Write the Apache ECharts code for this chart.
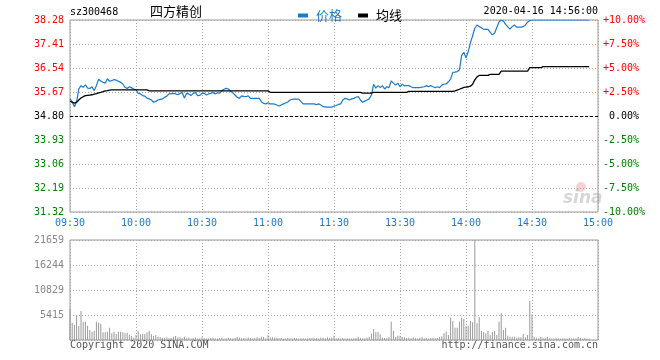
<!DOCTYPE html>
<html>
<head>
<meta charset="utf-8">
<script src="https://cdn.jsdelivr.net/npm/echarts@6/dist/echarts.min.js"></script>
<style>html,body{margin:0;padding:0;background:#fff}#c{width:660px;height:360px}</style>
</head>
<body>
<div id="c"></div>
<script>
// ---- data ----
var stockCode = 'sz300468';
var stockName = '四方精创';
var timestamp = '2020-04-16 14:56:00';
var prevClose = 34.80;
var priceTicks = [31.32, 38.28, 0.87];
var pctTicks = [-10, 10, 2.5];
var volTickLabels = ['', '5415', '10829', '16244', '21659'];
var volMax = 21659;

var price = [
35.42,35.31,35.14,35.31,35.78,35.90,35.84,35.93,35.81,35.80,
35.86,35.72,35.90,36.13,36.07,36.02,35.99,36.15,36.06,36.08,
36.12,36.10,36.06,36.02,35.96,35.84,35.80,35.86,35.82,35.78,
35.75,35.62,35.60,35.54,35.52,35.45,35.42,35.38,35.30,35.33,
35.38,35.40,35.42,35.48,35.52,35.60,35.61,35.62,35.60,35.57,
35.62,35.65,35.45,35.62,35.60,35.54,35.62,35.65,35.54,35.55,
35.62,35.63,35.56,35.60,35.62,35.65,35.60,35.64,35.63,35.72,
35.77,35.80,35.78,35.70,35.64,35.56,35.48,35.44,35.53,35.51,
35.50,35.53,35.44,35.44,35.44,35.44,35.44,35.32,35.26,35.24,
35.28,35.24,35.24,35.23,35.20,35.16,35.20,35.24,35.27,35.31,
35.38,35.40,35.41,35.41,35.41,35.32,35.24,35.24,35.24,35.24,
35.24,35.24,35.21,35.24,35.20,35.14,35.13,35.12,35.12,35.12,
35.16,35.18,35.22,35.24,35.38,35.44,35.42,35.38,35.42,35.44,
35.48,35.50,35.38,35.30,35.34,35.38,35.42,35.56,35.95,35.81,
35.90,35.83,35.90,35.78,35.86,35.83,36.07,35.99,35.92,35.99,
35.86,35.95,35.90,35.90,35.90,35.86,35.83,35.83,35.83,35.83,
35.85,35.86,35.90,35.86,35.90,35.86,35.83,35.86,35.83,35.92,
35.96,35.96,36.04,36.14,36.38,36.39,36.41,36.47,36.99,37.11,
36.91,37.13,37.44,37.71,37.98,38.10,38.04,38.00,37.94,37.94,
37.94,37.83,37.74,37.81,38.01,38.21,38.28,38.24,38.12,38.03,
37.95,38.04,38.10,38.02,38.02,38.02,38.04,38.10,38.20,38.26,
38.28,38.28,38.28,38.28,38.28,38.28,38.28,38.28,38.28,38.28,
38.28,38.28,38.28,38.28,38.28,38.28,38.28,38.28,38.28,38.28,
38.28,38.28,38.28,38.28,38.28,38.28,38.28
];

var avgPrice = [
35.33,35.30,35.27,35.30,35.38,35.45,35.50,35.54,35.55,35.56,
35.57,35.59,35.61,35.64,35.66,35.68,35.71,35.72,35.74,35.75,
35.75,35.75,35.75,35.75,35.75,35.75,35.75,35.75,35.75,35.75,
35.75,35.75,35.75,35.75,35.75,35.75,35.71,35.71,35.71,35.71,
35.71,35.71,35.71,35.71,35.71,35.71,35.71,35.71,35.71,35.71,
35.71,35.71,35.71,35.71,35.71,35.71,35.71,35.71,35.71,35.71,
35.71,35.71,35.71,35.71,35.71,35.71,35.71,35.71,35.71,35.71,
35.71,35.71,35.71,35.71,35.71,35.71,35.71,35.71,35.71,35.71,
35.71,35.71,35.71,35.71,35.71,35.71,35.71,35.71,35.71,35.71,
35.71,35.66,35.66,35.66,35.66,35.66,35.66,35.66,35.66,35.66,
35.66,35.66,35.66,35.66,35.66,35.66,35.66,35.66,35.66,35.66,
35.66,35.66,35.66,35.66,35.66,35.66,35.66,35.66,35.66,35.66,
35.66,35.66,35.66,35.66,35.66,35.66,35.66,35.66,35.66,35.66,
35.66,35.66,35.66,35.63,35.63,35.63,35.63,35.63,35.66,35.66,
35.66,35.66,35.66,35.66,35.66,35.66,35.66,35.66,35.66,35.66,
35.66,35.66,35.66,35.66,35.69,35.69,35.69,35.69,35.69,35.69,
35.69,35.69,35.69,35.69,35.69,35.69,35.69,35.69,35.69,35.69,
35.69,35.69,35.69,35.69,35.69,35.71,35.74,35.77,35.80,35.84,
35.85,35.86,35.88,35.95,36.11,36.22,36.27,36.27,36.27,36.27,
36.27,36.31,36.31,36.31,36.31,36.31,36.43,36.43,36.43,36.43,
36.43,36.43,36.43,36.43,36.43,36.43,36.43,36.43,36.43,36.55,
36.55,36.55,36.55,36.55,36.55,36.59,36.59,36.59,36.59,36.59,
36.59,36.59,36.59,36.59,36.59,36.59,36.59,36.59,36.59,36.59,
36.59,36.59,36.59,36.59,36.59,36.59,36.59
];

var volume = [
6715,3754,3249,5270,3032,6281,3970,3970,3104,2166,
1805,2022,3970,3754,3538,1660,1660,1805,2671,1444,
1805,1300,1805,1805,1660,1444,1588,1083,866,505,
1083,1949,1227,1300,1300,1660,1949,1227,866,1083,
722,650,500,420,600,380,450,700,866,520,
600,450,720,380,520,300,450,500,350,400,
600,420,380,300,450,500,380,300,420,520,
350,400,480,380,300,420,600,500,380,420,
300,520,450,350,420,600,500,720,650,300,
1011,520,600,550,480,380,420,300,350,420,
380,300,450,380,300,400,380,350,300,420,
500,380,420,300,550,500,380,600,450,500,
939,400,420,350,420,300,380,350,300,400,
450,722,420,300,400,500,650,1372,2383,1660,
1805,1227,500,450,400,600,3970,1949,600,939,
939,650,600,450,500,400,550,400,350,500,
600,400,450,300,420,500,400,450,650,800,
1444,1805,1083,4837,4115,2671,2671,3970,4837,4548,
2960,3104,4115,3826,21659,3610,4982,1949,1660,1444,
1949,1083,1660,1949,1083,3970,5848,2166,2671,939,
722,722,722,505,600,600,1372,600,1083,8447,
5559,650,500,300,650,500,500,650,400,350,
300,400,350,300,400,300,350,450,300,350,
400,650,500,300,450,350,300
];

// time categories: 09:30..11:30, 13:01..15:00
function pad(n){return (n<10?'0':'')+n;}
var times = [];
for (var m = 9*60+30; m <= 11*60+30; m++) times.push(pad(Math.floor(m/60))+':'+pad(m%60));
for (var m2 = 13*60+1; m2 <= 15*60; m2++) times.push(pad(Math.floor(m2/60))+':'+pad(m2%60));

// ---- chart ----
var mono = '"DejaVu Sans Mono", "Liberation Mono", monospace';
var blue = '#1a7bcc';
var grid = '#a8a8a8';
var every30 = function (i) { return i % 30 === 0; };
var dotted = { color: grid, type: [1, 2], width: 1 };

var chart = echarts.init(document.getElementById('c'), null, { renderer: 'canvas' });
chart.setOption({
  animation: false,
  backgroundColor: '#fff',
  legend: {
    left: 293, top: 4,
    itemWidth: 10, itemHeight: 4, itemGap: 16,
    icon: 'rect',
    data: [
      { name: '价格', textStyle: { color: blue } },
      { name: '均线', textStyle: { color: '#000' } }
    ],
    textStyle: { fontSize: 13, fontFamily: '"Noto Sans CJK SC"', padding: [0, 0, 0, 3] }
  },
  grid: [
    { left: 70, right: 62, top: 20, height: 192, show: true, borderColor: '#999', borderWidth: 1 },
    { left: 70, right: 62, top: 240, height: 100, show: true, borderColor: '#999', borderWidth: 1 }
  ],
  xAxis: [
    {
      type: 'category', gridIndex: 0, data: times, boundaryGap: false,
      axisLine: { show: false }, axisTick: { show: false },
      axisLabel: { interval: every30, color: blue, fontFamily: mono, fontSize: 10, margin: 6, showMinLabel: true, showMaxLabel: true },
      splitLine: { show: true, interval: every30, lineStyle: dotted }
    },
    {
      type: 'category', gridIndex: 1, data: times, boundaryGap: false,
      axisLine: { show: false }, axisTick: { show: false },
      axisLabel: { show: false },
      splitLine: { show: true, interval: every30, lineStyle: dotted }
    }
  ],
  yAxis: [
    {
      type: 'value', gridIndex: 0, min: priceTicks[0], max: priceTicks[1], interval: priceTicks[2],
      axisLine: { show: false }, axisTick: { show: false },
      axisLabel: {
        fontFamily: mono, fontSize: 10, margin: 6,
        formatter: function (v) { return v.toFixed(2); },
        color: function (v) {
          v = parseFloat(v);
          if (Math.abs(v - prevClose) < 0.001) return '#000';
          return v > prevClose ? '#f00' : '#008000';
        }
      },
      splitLine: { show: true, lineStyle: dotted }
    },
    {
      type: 'value', gridIndex: 0, position: 'right', min: pctTicks[0], max: pctTicks[1], interval: pctTicks[2],
      axisLine: { show: false }, axisTick: { show: false },
      axisLabel: {
        fontFamily: mono, fontSize: 10, margin: 5,
        formatter: function (v) {
          if (Math.abs(v) < 1e-9) return ' 0.00%';
          return (v > 0 ? '+' : '') + v.toFixed(2) + '%';
        },
        color: function (v) {
          v = parseFloat(v);
          if (Math.abs(v) < 1e-9) return '#000';
          return v > 0 ? '#f00' : '#008000';
        }
      },
      splitLine: { show: false }
    },
    {
      type: 'value', gridIndex: 2 - 1, min: 0, max: volMax, interval: volMax / 4,
      axisLine: { show: false }, axisTick: { show: false },
      axisLabel: {
        fontFamily: mono, fontSize: 10, margin: 6, color: '#888',
        formatter: function (v, i) { return volTickLabels[i] || ''; }
      },
      splitLine: { show: true, lineStyle: dotted }
    }
  ],
  series: [
    {
      name: '价格', type: 'line', xAxisIndex: 0, yAxisIndex: 0, data: price,
      showSymbol: false, symbol: 'none', color: blue,
      lineStyle: { width: 1.2, color: blue },
      markLine: {
        silent: true, symbol: ['none', 'none'], label: { show: false },
        lineStyle: { color: '#000', type: [3, 2], width: 1 },
        data: [{ yAxis: prevClose }]
      }
    },
    {
      name: '均线', type: 'line', xAxisIndex: 0, yAxisIndex: 0, data: avgPrice,
      showSymbol: false, symbol: 'none', color: '#000',
      lineStyle: { width: 1.3, color: '#000' }
    },
    {
      name: '成交量', type: 'bar', xAxisIndex: 1, yAxisIndex: 2, data: volume,
      barWidth: 1, itemStyle: { color: '#999' }
    }
  ],
  graphic: [
    { type: 'text', left: 70, top: 7, style: { text: stockCode, font: '10px ' + mono, fill: '#000' } },
    { type: 'text', left: 150, top: 5, style: { text: stockName, font: '13px "Noto Sans CJK SC"', fill: '#000' } },
    { type: 'text', right: 62, top: 6, style: { text: timestamp, font: '10px ' + mono, fill: '#000' } },
    { type: 'text', left: 70, top: 340, style: { text: 'Copyright 2020 SINA.COM', font: '10px ' + mono, fill: '#555' } },
    { type: 'text', right: 62, top: 340, style: { text: 'http://finance.sina.com.cn', font: '10px ' + mono, fill: '#555' } },
    { type: 'circle', shape: { cx: 581, cy: 187, r: 5 }, style: { fill: 'rgba(225,110,110,0.30)' } },
    { type: 'text', left: 563, top: 190, style: { text: 'sina', font: 'italic bold 17px "DejaVu Sans"', fill: 'rgba(140,140,140,0.35)' } }
  ]
});
</script>
</body>
</html>
